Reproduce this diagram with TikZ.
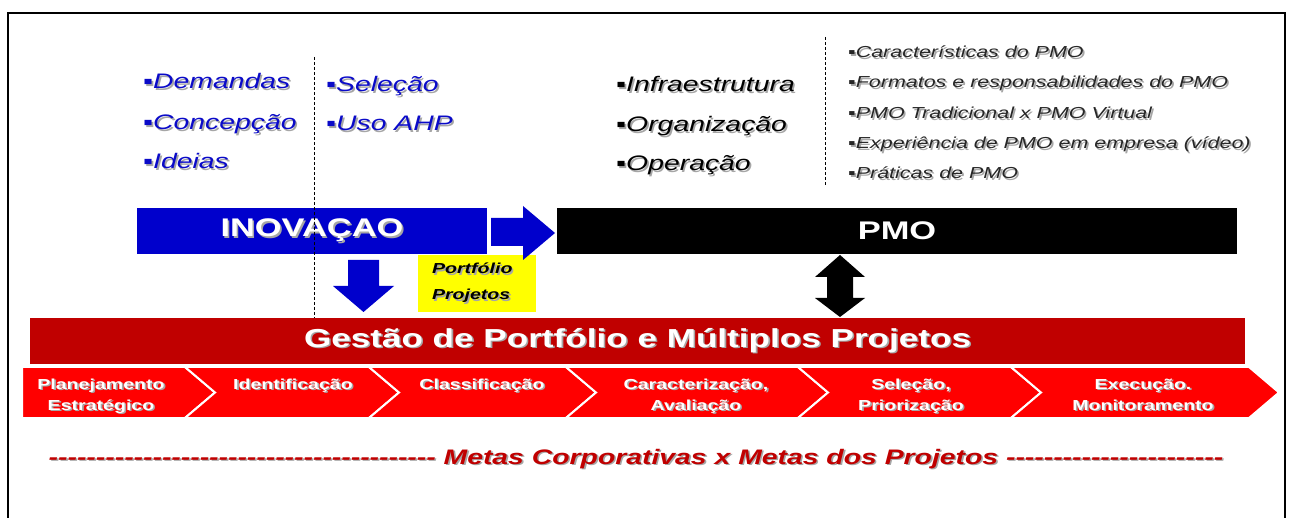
\documentclass[tikz,border=0pt]{standalone}
\usepackage{fontspec}
\setmainfont{Liberation Sans}[FakeStretch=1.35,Ligatures=TeXOff]
\newcommand\fsz[1]{\fontsize{#1}{#1}\selectfont}
\newcommand\shd[1]{\makebox[0pt][l]{\kern1.6pt\raisebox{-1.6pt}{\textcolor{black!35}{#1}}}#1}
\definecolor{bluetxt}{RGB}{10,10,200}
\definecolor{bluebox}{RGB}{0,0,204}
\definecolor{darkred}{RGB}{192,0,0}
\definecolor{brightred}{RGB}{255,0,0}
\definecolor{yellowbox}{RGB}{255,255,0}
\begin{document}
\begin{tikzpicture}[x=1pt,y=-1pt,
  bluelist/.style={anchor=base west,inner sep=0,text=bluetxt,font=\fsz{21}\itshape},
  blacklist/.style={anchor=base west,inner sep=0,text=black,font=\fsz{21}\itshape},
  smalllist/.style={anchor=base west,inner sep=0,text=black!85,font=\fsz{15.9}\itshape},
  bar/.style={inner sep=0,text=white,font=\fsz{25.5}\bfseries},
  chevtxt/.style={inner sep=0,text=white,font=\fontsize{14.5}{21}\selectfont\bfseries,align=center,anchor=base},
  chev/.style={fill=brightred,draw=white,line width=2pt},
  sep/.style={black,line width=0.8pt,dash pattern=on 3pt off 2pt}
]
\useasboundingbox (0,0) rectangle (1293,518);
% frame
\draw[line width=2pt] (8,520) -- (8,13) -- (1285,13) -- (1285,520);

% left lists
\node[bluelist] (dem) at (143,89) {\shd{▪Demandas}};
\node[bluelist] (conc) at (143,130) {\shd{▪Concepção}};
\node[bluelist] (ide) at (143,169) {\shd{▪Ideias}};
\node[bluelist] (sel) at (326,92) {\shd{▪Seleção}};
\node[bluelist] (uso) at (326,131) {\shd{▪Uso AHP}};

% middle list
\node[blacklist] (inf) at (616,92) {\shd{▪Infraestrutura}};
\node[blacklist] (org) at (616,132) {\shd{▪Organização}};
\node[blacklist] (ope) at (616,171) {\shd{▪Operação}};

% right list
\node[smalllist] (c1) at (848,58) {\shd{▪Características do PMO}};
\node[smalllist] (c2) at (848,88) {\shd{▪Formatos e responsabilidades do PMO}};
\node[smalllist] (c3) at (848,119) {\shd{▪PMO Tradicional x PMO Virtual}};
\node[smalllist] (c4) at (848,149) {\shd{▪Experiência de PMO em empresa (vídeo)}};
\node[smalllist] (c5) at (848,179) {\shd{▪Práticas de PMO}};

% bars
\node[bar,fill=bluebox,minimum width=350pt,minimum height=46pt] (inov) at (312,231) {\shd{INOVAÇAO}};
\node[bar,fill=black,minimum width=680pt,minimum height=46pt] (pmo) at (897,231) {PMO};
\node[bar,fill=darkred,minimum width=1215pt,minimum height=46pt,font=\fsz{26}\bfseries] (gest) at (637.5,341) {\shd{Gestão de Portfólio e Múltiplos Projetos}};

% separators
\draw[sep] (314,57) -- (314,318);
\draw[sep] (825,37) -- (825,185);

% yellow box
\node[fill=yellowbox,minimum height=57pt,inner xsep=14pt,inner ysep=0pt,text width=90pt,align=left,font=\fontsize{14.5}{26}\selectfont\bfseries\itshape] (port) at (477,283.5) {\shd{Portfólio}\\\shd{Projetos}};

% block arrows
\fill[bluebox] (491,218) -- (523,218) -- (523,206) -- (555,233) -- (523,260) -- (523,246) -- (491,246) -- cycle;
\fill[bluebox] (348,260) -- (379,260) -- (379,286) -- (394,286) -- (363.5,312) -- (333,286) -- (348,286) -- cycle;
\fill[black] (840,255) -- (865,277) -- (853,277) -- (853,298) -- (865,298) -- (840,317) -- (815,298) -- (827,298) -- (827,277) -- (815,277) -- cycle;

% chevrons
\path[chev] (22,367) -- (185,367) -- (215,392.5) -- (185,418) -- (22,418) -- cycle;
\path[chev] (185,367) -- (369,367) -- (399,392.5) -- (369,418) -- (185,418) -- (215,392.5) -- cycle;
\path[chev] (369,367) -- (566,367) -- (596,392.5) -- (566,418) -- (369,418) -- (399,392.5) -- cycle;
\path[chev] (566,367) -- (798,367) -- (828,392.5) -- (798,418) -- (566,418) -- (596,392.5) -- cycle;
\path[chev] (798,367) -- (1011,367) -- (1041,392.5) -- (1011,418) -- (798,418) -- (828,392.5) -- cycle;
\path[chev] (1011,367) -- (1249,367) -- (1279,392.5) -- (1249,418) -- (1011,418) -- (1041,392.5) -- cycle;

\node[chevtxt] (s1) at (101,410) {\shd{Planejamento}\\\shd{Estratégico}};
\node[chevtxt] (s2) at (293,389) {\shd{Identificação}};
\node[chevtxt] (s3) at (482,389) {\shd{Classificação}};
\node[chevtxt] (s4) at (696,410) {\shd{Caracterização,}\\\shd{Avaliação}};
\node[chevtxt] (s5) at (911,410) {\shd{Seleção,}\\\shd{Priorização}};
\node[chevtxt] (s6) at (1143,410) {\shd{Execução.}\\\shd{Monitoramento}};

% metas line
\node[anchor=base,inner sep=0,text=darkred,font=\fsz{21}\bfseries\itshape] (metas) at (636,464) {\shd{----------------------------------------- Metas Corporativas x Metas dos Projetos -----------------------}};
\end{tikzpicture}
\end{document}
